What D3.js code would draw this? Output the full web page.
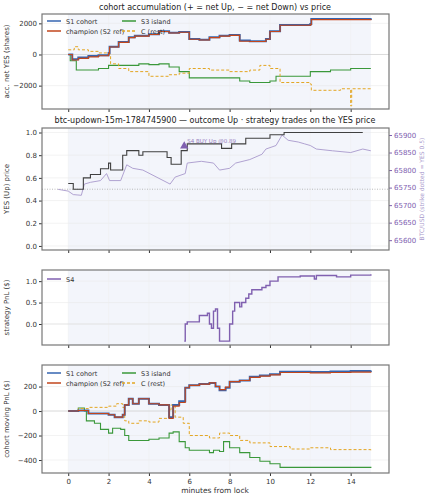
<!DOCTYPE html><html><head><meta charset="utf-8">
<script src="https://cdn.jsdelivr.net/npm/d3@7"></script>
<style>body{margin:0;background:#fff}text{font-family:"DejaVu Sans",sans-serif}</style></head><body>
<svg id="c" width="429" height="500"></svg>
<script>
const accS1=[[0,0],[0.2,-300],[0.5,-200],[1,-100],[1.5,-50],[2,100],[2.05,500],[2.5,800],[3,1100],[3.3,1200],[4,1300],[4.5,1500],[5,1400],[5.5,1450],[6,1000],[6.5,950],[7,1100],[7.5,1200],[8,1250],[8.5,900],[9,850],[9.8,1000],[10,1500],[10.5,1900],[11,1900],[12,1950],[12.05,2280],[15,2320]];
const accChamp=[[0,0],[0.2,-350],[0.5,-250],[1,-150],[1.5,-80],[2,80],[2.05,480],[2.5,780],[3,1080],[3.3,1180],[4,1280],[4.5,1480],[5,1380],[5.5,1430],[6,980],[6.5,930],[7,1080],[7.5,1180],[8,1230],[8.5,850],[9,830],[9.8,980],[10,1480],[10.5,1880],[11,1880],[12,1920],[12.05,2240],[15,2260]];
const accS3=[[0,0],[0.1,-400],[0.4,-1000],[1,-1000],[1.5,-900],[2,-700],[3,-700],[3.5,-600],[4,-650],[4.5,-600],[5,-800],[5.5,-1100],[6,-1500],[7,-1500],[8,-1500],[8.5,-1700],[9,-1800],[10,-1700],[10.3,-1400],[11,-1400],[12,-1100],[13,-1000],[14,-900],[15,-900]];
const accC=[[0,300],[0.3,500],[0.5,300],[1,200],[1.5,100],[2,0],[2.1,-600],[2.5,-900],[3,-1100],[4,-1400],[5,-1300],[5.5,-1200],[6,-900],[7,-1000],[8,-1100],[9,-1000],[9.5,-700],[10,-900],[10.5,-1800],[11,-1800],[12,-1900],[12.05,-2300],[13,-2300],[13.5,-2200],[14,-3300],[14.05,-2200],[15,-2200]];
const yesPrice=[[0,0.55],[0.25,0.5],[0.75,0.6],[1.1,0.63],[1.6,0.68],[2,0.73],[2.1,0.67],[2.7,0.8],[2.9,0.84],[3.5,0.8],[3.7,0.83],[4.9,0.78],[5.1,0.72],[5.6,0.84],[5.9,0.9],[7.4,0.9],[7.6,0.86],[8,0.86],[8.1,0.9],[8.8,0.95],[10,0.98],[10.7,1.0],[14.6,1.0]];
const btc=[[-0.5,65745],[0,65740],[0.25,65730],[0.65,65728],[0.8,65760],[1.1,65765],[1.6,65770],[1.9,65790],[2.05,65770],[2.6,65770],[2.9,65815],[3.2,65805],[3.7,65800],[5.05,65760],[5.3,65780],[5.8,65790],[5.9,65820],[6.6,65825],[7.2,65820],[7.5,65800],[8,65805],[8.3,65820],[9,65830],[9.6,65845],[9.8,65860],[10.3,65870],[10.6,65900],[10.9,65885],[11.4,65880],[11.7,65875],[12,65870],[12.3,65860],[13.1,65855],[14,65850],[14.6,65860],[15,65855]];
const trade=[[5.75,0.88]];
const s4=[[5.75,-0.4],[5.8,0.0],[5.9,0.05],[6.5,0.2],[6.9,0.25],[7.0,0.0],[7.1,-0.1],[7.2,0.3],[7.3,0.35],[7.4,-0.1],[7.5,-0.4],[7.9,-0.4],[8.0,0.0],[8.15,0.3],[8.25,0.5],[8.5,0.4],[8.6,0.5],[8.8,0.6],[8.95,0.7],[9.1,0.8],[9.6,0.85],[9.8,0.9],[10,1.0],[10.4,1.1],[11.5,1.12],[12.2,1.05],[12.3,1.13],[13.2,1.13],[13.3,1.1],[14,1.14],[15,1.16]];
const pnlS1=[[0,0],[0.5,5],[1,-20],[2,-30],[2.3,-50],[2.7,-30],[2.8,50],[3,100],[3.2,60],[3.5,100],[4,60],[4.5,50],[5,-50],[5.2,50],[5.5,80],[5.8,190],[6,210],[6.5,220],[7,230],[7.3,200],[7.5,170],[7.8,190],[8,240],[8.5,250],[9,280],[9.5,290],[10,300],[10.5,320],[12,318],[13,322],[14,328],[15,332]];
const pnlChamp=[[0,0],[0.5,5],[1,-20],[2,-30],[2.3,-50],[2.7,-30],[2.8,50],[3,100],[3.2,60],[3.5,100],[4,60],[4.5,50],[5,-60],[5.2,40],[5.5,70],[5.8,190],[6,210],[6.5,220],[7,230],[7.3,200],[7.5,175],[7.8,195],[8,240],[8.5,250],[9,275],[9.5,285],[10,295],[10.5,315],[12,312],[13,315],[14,318],[15,320]];
const pnlS3=[[0,0],[0.5,25],[0.8,0],[0.9,-80],[1.3,-100],[1.6,-150],[2,-180],[2.2,-140],[2.6,-150],[2.8,-200],[3,-240],[4,-230],[4.5,-220],[5,-180],[5.2,-170],[5.5,-250],[5.8,-300],[6,-320],[7,-340],[7.2,-320],[7.5,-330],[7.7,-250],[8,-300],[8.5,-340],[9,-380],[9.5,-410],[10,-430],[10.5,-460],[12,-460],[15,-465]];
const pnlC=[[0,0],[0.5,20],[1,30],[2,40],[2.4,60],[2.7,30],[2.8,-80],[3,-100],[3.5,-80],[4,-90],[4.5,-60],[5,10],[5.1,50],[5.3,-50],[5.7,-100],[6,-200],[7,-220],[7.5,-180],[8,-200],[8.5,-240],[9,-260],[10,-290],[11,-310],[12,-300],[13,-315],[15,-320]];
const xTicks=[0,2,4,6,8,10,12,14];

const svg=d3.select("#c");
const L=42,R=389;
const x=d3.scaleLinear().domain([-1.3,15.9]).range([L,R]);
const BL="#3465b0",CH="#c2461c",GR="#3a983a",OR="#e3a623",PU="#8060b0",PU2="#a898cc";
const FS=7;
const line=(xs,ys)=>d3.line().curve(d3.curveStepAfter).x(d=>xs(d[0])).y(d=>ys(d[1]));
function panel(top,bot,dom,ticks,fmt,label,showX){
  const y=d3.scaleLinear().domain(dom).range([bot,top]);
  const g=svg.append("g");
  g.append("rect").attr("x",L).attr("y",top).attr("width",R-L).attr("height",bot-top).attr("fill","#fff");
  g.append("rect").attr("x",x(0)).attr("y",top).attr("width",x(15)-x(0)).attr("height",bot-top).attr("fill","#f3f5fb");
  ticks.forEach(t=>g.append("line").attr("x1",L).attr("x2",R).attr("y1",y(t)).attr("y2",y(t)).attr("stroke","#e6e6e6").attr("stroke-width",0.5));
  xTicks.forEach(t=>g.append("line").attr("x1",x(t)).attr("x2",x(t)).attr("y1",top).attr("y2",bot).attr("stroke","#eeeeee").attr("stroke-width",0.5));
  const ax=g.append("g").attr("transform",`translate(${L},0)`).call(d3.axisLeft(y).tickValues(ticks).tickFormat(fmt).tickSize(3).tickPadding(2));
  ax.select(".domain").remove();ax.selectAll("text").attr("font-size",FS).attr("fill","#333");ax.selectAll("line").attr("stroke","#333");
  const bx=g.append("g").attr("transform",`translate(0,${bot})`).call(d3.axisBottom(x).tickValues(xTicks).tickSize(3).tickFormat(showX?d3.format("d"):""));
  bx.select(".domain").remove();bx.selectAll("text").attr("font-size",FS).attr("fill","#333");bx.selectAll("line").attr("stroke","#333");
  svg.append("text").attr("transform",`translate(9,${(top+bot)/2}) rotate(-90)`).attr("text-anchor","middle").attr("font-size",FS).attr("fill","#333").text(label);
  return {y,g,top,bot};
}
function frame(p){svg.append("rect").attr("x",L).attr("y",p.top).attr("width",R-L).attr("height",p.bot-p.top).attr("fill","none").attr("stroke","#777").attr("stroke-width",1.2);}
const minus=d=>d3.format("d")(d).replace("-","−");
function draw(p,data,col,w,dash){svg.append("path").datum(data).attr("d",line(x,p.y)).attr("fill","none").attr("stroke",col).attr("stroke-width",w).attr("stroke-dasharray",dash||null);}
function legend(items,x0,y0,cols){items.forEach((it,i)=>{const cx=x0+(i%cols)*75,cy=y0+Math.floor(i/cols)*10;
  svg.append("line").attr("x1",cx).attr("x2",cx+14).attr("y1",cy).attr("y2",cy).attr("stroke",it[1]).attr("stroke-width",1.5).attr("stroke-dasharray",it[2]||null);
  svg.append("text").attr("x",cx+19).attr("y",cy+2.5).attr("font-size",6.5).attr("fill","#333").text(it[0]);});}

svg.append("text").attr("x",215).attr("y",10).attr("text-anchor","middle").attr("font-size",8).attr("fill","#222").text("cohort accumulation (+ = net Up, − = net Down) vs price");
const p1=panel(14,109,[-3500,2600],[-2000,0,2000],minus,"acc. net YES (shares)",false);
svg.append("line").attr("x1",L).attr("x2",R).attr("y1",p1.y(0)).attr("y2",p1.y(0)).attr("stroke","#ccc").attr("stroke-width",0.6);
draw(p1,accS3,GR,1.1);draw(p1,accC,OR,1,"3,2");draw(p1,accS1,BL,2);draw(p1,accChamp,CH,1.1);
frame(p1);legend([["S1 cohort",BL],["S3 island",GR],["champion (S2 ref)",CH],["C (rest)",OR,"3,2"]],47,21,2);

svg.append("text").attr("x",215).attr("y",123).attr("text-anchor","middle").attr("font-size",8).attr("fill","#222").text("btc-updown-15m-1784745900 — outcome Up · strategy trades on the YES price");
const p2=panel(128,250,[-0.0358,1.0398],[0,0.2,0.4,0.6,0.8,1.0],d3.format(".1f"),"YES (Up) price",false);
const yb=d3.scaleLinear().domain([65572,65920]).range([250,128]);
svg.append("line").attr("x1",L).attr("x2",R).attr("y1",p2.y(0.5)).attr("y2",p2.y(0.5)).attr("stroke","#aaa").attr("stroke-width",0.8).attr("stroke-dasharray","1,1.5");
svg.append("path").datum(btc).attr("d",d3.line().x(d=>x(d[0])).y(d=>yb(d[1]))).attr("fill","none").attr("stroke",PU2).attr("stroke-width",0.9);
draw(p2,yesPrice,"#404040",1.1);
trade.forEach(d=>{svg.append("path").attr("d",d3.symbol(d3.symbolTriangle,30)()).attr("transform",`translate(${x(d[0])},${p2.y(d[1])})`).attr("fill",PU);
  svg.append("text").attr("x",x(d[0])+3).attr("y",p2.y(d[1])-3).attr("font-size",5.5).attr("fill",PU).attr("opacity",0.8).text("S4 BUY Up @0.89");});
const ra=svg.append("g").attr("transform",`translate(${R},0)`).call(d3.axisRight(yb).tickValues([65600,65650,65700,65750,65800,65850,65900]).tickFormat(d3.format("d")).tickSize(3).tickPadding(2));
ra.select(".domain").remove();ra.selectAll("text").attr("font-size",FS).attr("fill",PU);ra.selectAll("line").attr("stroke",PU);
svg.append("text").attr("transform",`translate(424,189) rotate(-90)`).attr("text-anchor","middle").attr("font-size",6).attr("fill",PU2).text("BTC/USD (strike dotted = YES 0.5)");
frame(p2);

const p3=panel(270,345,[-0.49,1.26],[0,0.5,1.0],d3.format(".1f"),"strategy PnL ($)",false);
svg.append("line").attr("x1",L).attr("x2",R).attr("y1",p3.y(0)).attr("y2",p3.y(0)).attr("stroke","#ddd").attr("stroke-width",0.6);
draw(p3,s4,PU,1.4);frame(p3);legend([["S4",PU]],47,279,1);

const p4=panel(365,473,[-506,376],[-400,-200,0,200],minus,"cohort moving PnL ($)",true);
svg.append("line").attr("x1",L).attr("x2",R).attr("y1",p4.y(0)).attr("y2",p4.y(0)).attr("stroke","#ccc").attr("stroke-width",0.6);
draw(p4,pnlS3,GR,1.1);draw(p4,pnlC,OR,1,"3,2");draw(p4,pnlS1,BL,2);draw(p4,pnlChamp,CH,1.1);
frame(p4);legend([["S1 cohort",BL],["S3 island",GR],["champion (S2 ref)",CH],["C (rest)",OR,"3,2"]],47,373,2);
svg.append("text").attr("x",215).attr("y",493).attr("text-anchor","middle").attr("font-size",7.5).attr("fill","#333").text("minutes from lock");
</script></body></html>
